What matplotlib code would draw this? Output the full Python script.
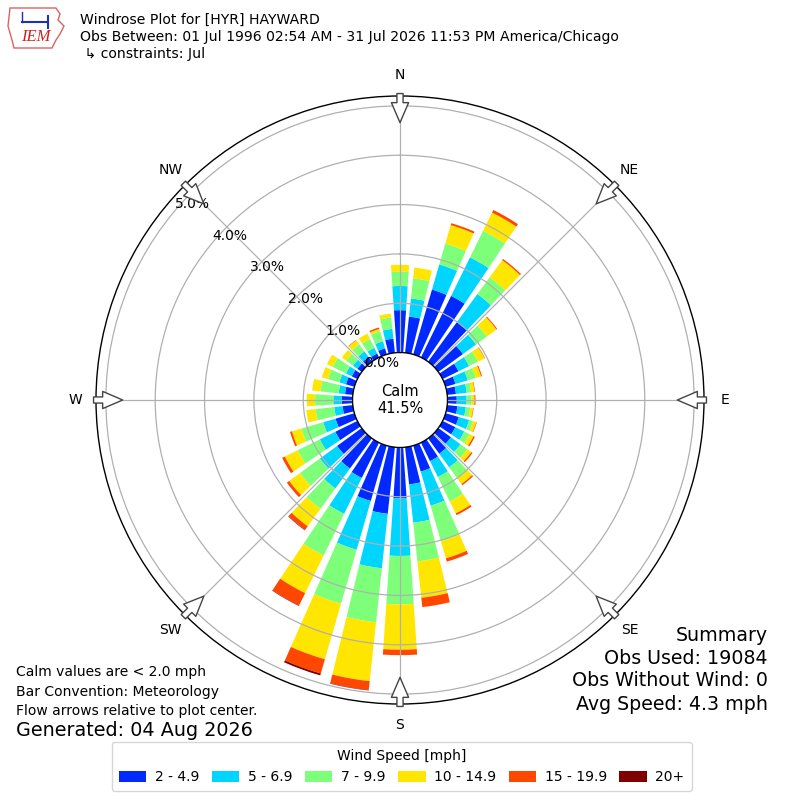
import numpy as np
import matplotlib
matplotlib.use("Agg")
import matplotlib.pyplot as plt
from matplotlib.patches import Patch, Polygon

# ---- data (percent of observations per 10-degree direction bin) ----
directions = list(range(0, 360, 10))
speed_labels = ["2 - 4.9", "5 - 6.9", "7 - 9.9", "10 - 14.9", "15 - 19.9", "20+"]
s_2_5 = [0.86, 0.74, 1.37, 1.39, 1.00, 0.62, 0.36, 0.21, 0.18, 0.19, 0.21, 0.28,
         0.29, 0.32, 0.39, 0.42, 0.55, 0.76, 1.03, 1.36, 1.17, 0.80, 0.76, 0.62,
         0.50, 0.40, 0.21, 0.22, 0.16, 0.18, 0.13, 0.11, 0.12, 0.09, 0.13, 0.29]
s_5_7 = [0.49, 0.37, 0.53, 0.87, 0.70, 0.33, 0.24, 0.26, 0.22, 0.20, 0.17, 0.22,
         0.20, 0.24, 0.34, 0.36, 0.72, 0.78, 1.17, 1.11, 1.03, 0.81, 0.50, 0.43,
         0.35, 0.26, 0.17, 0.17, 0.13, 0.14, 0.13, 0.11, 0.14, 0.13, 0.15, 0.20]
s_7_10 = [0.29, 0.41, 0.44, 0.60, 0.42, 0.27, 0.20, 0.17, 0.09, 0.10, 0.09, 0.08,
          0.12, 0.17, 0.27, 0.55, 0.75, 0.79, 0.98, 1.10, 1.14, 0.94, 0.51, 0.50,
          0.50, 0.46, 0.38, 0.37, 0.37, 0.24, 0.30, 0.17, 0.18, 0.20, 0.21, 0.23]
s_10_15 = [0.14, 0.22, 0.39, 0.41, 0.43, 0.24, 0.15, 0.11, 0.07, 0.06, 0.06, 0.07,
           0.09, 0.10, 0.15, 0.27, 0.36, 0.74, 0.92, 1.20, 1.17, 0.85, 0.44, 0.27,
           0.29, 0.20, 0.19, 0.17, 0.17, 0.13, 0.13, 0.11, 0.10, 0.12, 0.05, 0.08]
s_15_20 = [0.00, 0.00, 0.04, 0.06, 0.03, 0.02, 0.01, 0.02, 0.01, 0.02, 0.01, 0.01,
           0.03, 0.03, 0.03, 0.04, 0.07, 0.19, 0.11, 0.18, 0.30, 0.28, 0.09, 0.06,
           0.06, 0.04, 0.00, 0.00, 0.00, 0.00, 0.00, 0.00, 0.01, 0.00, 0.03, 0.00]
s_20p = [0.00, 0.00, 0.00, 0.00, 0.00, 0.00, 0.00, 0.00, 0.00, 0.00, 0.00, 0.00,
         0.00, 0.00, 0.00, 0.00, 0.00, 0.00, 0.00, 0.01, 0.04, 0.01, 0.01, 0.00,
         0.00, 0.00, 0.00, 0.00, 0.00, 0.00, 0.00, 0.00, 0.00, 0.00, 0.00, 0.00]
rings = [0, 1, 2, 3, 4, 5]
compass = ["N", "NE", "E", "SE", "S", "SW", "W", "NW"]
calm_pct = 41.5

series = [s_2_5, s_5_7, s_7_10, s_10_15, s_15_20, s_20p]
colors = plt.cm.jet(np.linspace(0, 1, 7)[1:])

fig = plt.figure(figsize=(8, 8), dpi=100)
ax = fig.add_axes([0.12, 0.12, 0.76, 0.76], projection="polar")
ax.set_theta_zero_location("N")
ax.set_theta_direction(-1)

theta = np.deg2rad(directions)
bottom = np.zeros(len(directions))
for vals, col in zip(series, colors):
    vals = np.array(vals)
    ax.bar(theta, vals, width=np.deg2rad(7.7), bottom=bottom, color=col,
           linewidth=0, align="center", zorder=1)
    bottom = bottom + vals

ax.set_ylim(0, 5.2)
ax.set_rorigin(-0.96)
ax.set_yticks(rings[1:])
ax.set_yticklabels([])
ax.set_xticks(np.deg2rad(np.arange(0, 360, 45)))
ax.set_xticklabels([])
ax.grid(True, color="#b0b0b0", linewidth=0.9)
ax.spines["polar"].set_color("black")
ax.spines["polar"].set_linewidth(1.0)

# calm circle edge
tt = np.linspace(0, 2 * np.pi, 361)
ax.plot(tt, np.zeros_like(tt), color="black", lw=1.0, zorder=3)
ax.text(0, -0.96, f"Calm\n{calm_pct:.1f}%", ha="center", va="center",
        fontsize=10.5, zorder=5)

# radial labels
for r in rings:
    ax.text(np.deg2rad(310), r, f"{r:.1f}%", ha="left", va="bottom",
            fontsize=10, zorder=6)

# compass labels and flow arrows
for i, lab in enumerate(compass):
    th = np.deg2rad(i * 45)
    ax.text(th, 5.62, lab, ha="center", va="center", fontsize=10, clip_on=False)
    ax.annotate("", xy=(th, 4.66), xytext=(th, 5.25),
                arrowprops=dict(arrowstyle="simple,head_length=0.72,head_width=0.62,tail_width=0.22",
                                mutation_scale=20, fc="white", ec="#444444", lw=1.0,
                                shrinkA=0, shrinkB=0), annotation_clip=False, zorder=6)

# header
fig.text(0.1, 0.975, "Windrose Plot for [HYR] HAYWARD", fontsize=10.1, va="center")
fig.text(0.1, 0.954, "Obs Between: 01 Jul 1996 02:54 AM - 31 Jul 2026 11:53 PM America/Chicago",
         fontsize=10.1, va="center")
fig.text(0.1, 0.9325, " \u21b3 constraints: Jul", fontsize=10.1, va="center")

# logo (approximation)
logo_x = [10, 56, 60, 58, 64, 60, 56, 52, 14, 12, 8, 10]
logo_y = [8, 8, 14, 20, 26, 34, 40, 48, 48, 40, 26, 8]
fig.patches.append(Polygon(np.column_stack([np.array(logo_x) / 800, 1 - np.array(logo_y) / 800]),
                           closed=True, fill=False, ec="#e06060", lw=1.0,
                           transform=fig.transFigure))
fig.text(36 / 800, 1 - 37 / 800, "IEM", color="#d02020", fontsize=12, style="italic",
         family="Liberation Serif", ha="center", va="center")
fig.lines.append(plt.Line2D(np.array([22, 48]) / 800, 1 - np.array([22, 22]) / 800,
                            color="#2030b0", lw=1.5, transform=fig.transFigure))
fig.lines.append(plt.Line2D(np.array([48, 48]) / 800, 1 - np.array([16, 28]) / 800,
                            color="#2030b0", lw=1.5, transform=fig.transFigure))
fig.lines.append(plt.Line2D(np.array([22, 22]) / 800, 1 - np.array([12, 22]) / 800,
                            color="#2030b0", lw=1.0, transform=fig.transFigure))

# footer left
fig.text(0.02, 0.16, "Calm values are < 2.0 mph", fontsize=10, va="center")
fig.text(0.02, 0.135, "Bar Convention: Meteorology", fontsize=10, va="center")
fig.text(0.02, 0.111, "Flow arrows relative to plot center.", fontsize=10, va="center")
fig.text(0.02, 0.0875, "Generated: 04 Aug 2026", fontsize=13.8, va="center")

# summary right
fig.text(0.96, 0.206, "Summary", fontsize=13.7, ha="right", va="center")
fig.text(0.96, 0.1775, "Obs Used: 19084", fontsize=13.7, ha="right", va="center")
fig.text(0.96, 0.149, "Obs Without Wind: 0", fontsize=13.7, ha="right", va="center")
fig.text(0.96, 0.119, "Avg Speed: 4.3 mph", fontsize=13.7, ha="right", va="center")

handles = [Patch(facecolor=c, edgecolor="none") for c in colors]
fig.legend(handles, speed_labels, loc="lower center", ncol=6, title="Wind Speed [mph]",
           bbox_to_anchor=(0.502, 0.0025), fontsize=10, title_fontsize=10, frameon=True,
           columnspacing=0.9, handletextpad=0.6, handleheight=0.85, borderpad=0.5)

fig.savefig("out.png", dpi=100)
